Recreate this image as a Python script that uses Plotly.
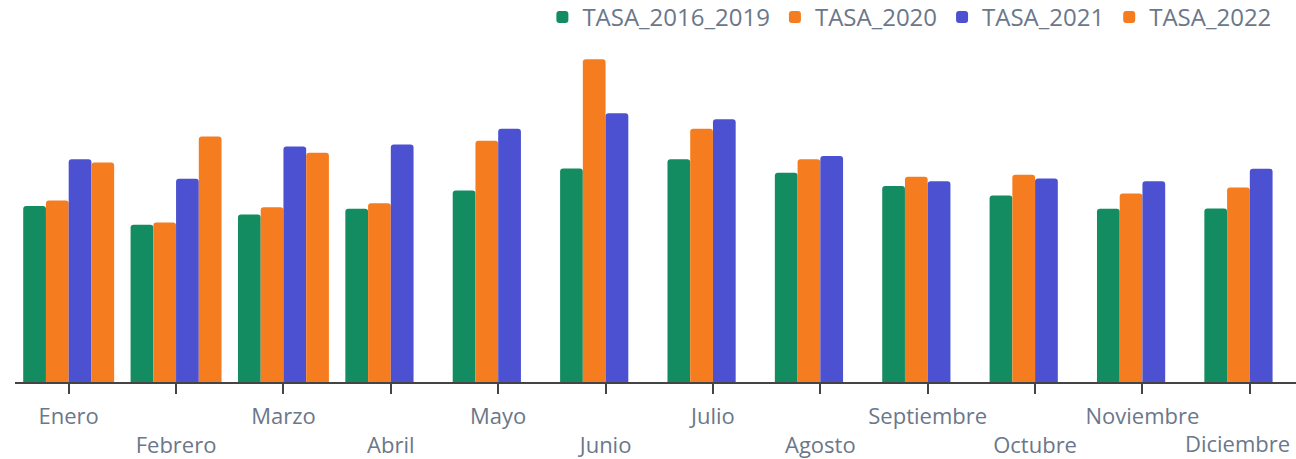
import plotly.graph_objects as go

meses = ["Enero", "Febrero", "Marzo", "Abril", "Mayo", "Junio", "Julio",
         "Agosto", "Septiembre", "Octubre", "Noviembre", "Diciembre"]

tasa_2016_2019 = [4.40, 3.93, 4.19, 4.33, 4.79, 5.34, 5.57, 5.23, 4.90, 4.66, 4.33, 4.34]
tasa_2020 = [4.54, 3.99, 4.37, 4.47, 6.03, 8.07, 6.33, 5.57, 5.13, 5.18, 4.71, 4.86]
tasa_2021 = [5.57, 5.08, 5.89, 5.94, 6.33, 6.72, 6.57, 5.65, 5.02, 5.09, 5.02, 5.33]
tasa_2022 = [5.49, 6.14, 5.73, None, None, None, None, None, None, None, None, None]

series = [
    ("TASA_2016_2019", tasa_2016_2019, "#138c62"),
    ("TASA_2020", tasa_2020, "#f57d20"),
    ("TASA_2021", tasa_2021, "#4c51d1"),
    ("TASA_2022", tasa_2022, "#f57d20"),
]

idx = list(range(len(meses)))
ticktext = [m if i % 2 == 0 else "<br>" + m for i, m in enumerate(meses)]
# the last label is drawn as an annotation, nudged left to stay inside the page
ticktext[-1] = ""

fig = go.Figure()
for name, vals, color in series:
    fig.add_trace(go.Bar(
        x=idx, y=vals, name=name,
        marker=dict(color=color, line=dict(width=0)),
    ))

fig.add_annotation(
    x=idx[-1], xref="x", y=0, yref="paper", text=meses[-1],
    showarrow=False, xanchor="center", yanchor="top", borderpad=0,
    xshift=-12, yshift=-45, font=dict(size=22, color="#6b778a"),
)

fig.update_layout(
    width=1296, height=459,
    barmode="group", bargap=0.153, bargroupgap=0,
    barcornerradius=3,
    paper_bgcolor="white", plot_bgcolor="white",
    margin=dict(l=15, r=0, t=40, b=77),
    font=dict(family="Open Sans", size=22, color="#6b778a"),
    showlegend=True,
    legend=dict(orientation="h", xref="container", x=0.4185, xanchor="left",
                yref="container", y=0.962, yanchor="middle",
                font=dict(size=24, color="#6b778a"),
                itemwidth=30, traceorder="normal"),
    xaxis=dict(
        range=[-0.5, 11.43], tickmode="array", tickvals=idx, ticktext=ticktext,
        showgrid=False, zeroline=False, showline=True, linecolor="#444",
        linewidth=1.5, ticks="outside", ticklen=10, tickcolor="#444",
        tickwidth=1.5, tickangle=0, ticklabelstandoff=4,
        ticklabeloverflow="allow", automargin=False,
    ),
    yaxis=dict(range=[0, 8.55], visible=False, showgrid=False, automargin=False),
)

fig.write_html("out.html", config={"displayModeBar": False},
               post_script="document.body.style.margin='0';")
